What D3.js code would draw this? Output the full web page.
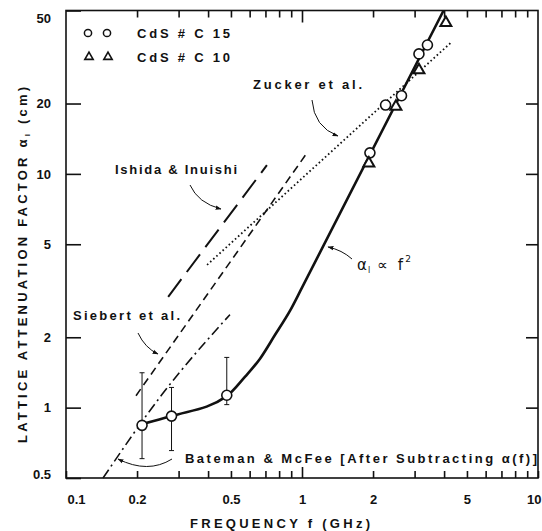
<!DOCTYPE html>
<html>
<head>
<meta charset="utf-8">
<script src="https://cdn.jsdelivr.net/npm/d3@7"></script>
<style>
  html, body { margin: 0; padding: 0; background: #fff; }
  svg { display: block; font-family: "Liberation Sans", Arial, sans-serif; }
</style>
</head>
<body>
<svg id="chart" width="542" height="531"></svg>
<script>
// ---- data: lattice attenuation factor vs frequency ----
// CdS # C15 (circles)
const c15Freq  = [0.21, 0.28, 0.48, 1.94, 2.26, 2.64, 3.13, 3.40];
const c15Atten = [0.84, 0.92, 1.13, 12.3, 19.7, 21.6, 32.6, 35.6];
// error bars on the three low-frequency C15 points
const errFreq = [0.21, 0.28, 0.48];
const errLow  = [0.605, 0.655, 1.03];
const errHigh = [1.41, 1.22, 1.64];
// CdS # C10 (triangles)
const c10Freq  = [1.92, 2.50, 3.13, 4.07];
const c10Atten = [11.1, 19.4, 27.8, 44.3];
// drawn fit through the C15 points, alpha_l ∝ f^2 at high frequency
const fitFreq  = [0.21, 0.28, 0.48, 0.574, 0.664, 0.769, 0.89, 1.00, 3.98];
const fitAtten = [0.85, 0.92, 1.12, 1.357, 1.62, 2.05, 2.60, 3.26, 50.0];
// literature curves
const ishidaFreq   = [0.271, 0.71];
const ishidaAtten  = [2.98, 10.9];
const siebertFreq  = [0.198, 1.05];
const siebertAtten = [1.125, 12.3];
const batemanFreq  = [0.1435, 0.255, 0.495];
const batemanAtten = [0.5, 1.137, 2.50];
const zuckerFreq   = [0.396, 4.31];
const zuckerAtten  = [4.08, 36.7];
// axis ticks
const xMinorTicks = [0.2, 0.3, 0.4, 0.5, 0.6, 0.7, 0.8, 0.9, 1, 2, 3, 4, 5, 6, 7, 8, 9];
const xLabelTicks = [0.1, 0.2, 0.5, 1, 2, 5, 10];
const yLabelTicks = [0.5, 1, 2, 5, 10, 20, 50];
const yRightTicks = [1, 2, 5, 10, 20];

const zip = (a, b) => a.map((v, i) => [v, b[i]]);

const svg = d3.select("#chart");
const ink = "#111";

const x = d3.scaleLog().domain([0.1, 10]).range([66, 538]);
const y = d3.scaleLog().domain([0.5, 50]).range([478, 10.5]);
const [x0, x1] = x.range();
const [yB, yT] = y.range();

// ---- axes ----
function styleAxis(g) {
  g.select(".domain").remove();
  g.selectAll(".tick line").attr("stroke", ink).attr("stroke-width", 1.6);
  g.selectAll(".tick text")
    .attr("fill", ink)
    .attr("font-size", 13)
    .attr("font-weight", "bold")
    .attr("font-family", "Liberation Sans, Arial, sans-serif");
}

const gBottom = svg.append("g")
  .attr("transform", `translate(0,${yB})`)
  .call(d3.axisBottom(x)
    .tickValues([0.1].concat(xMinorTicks, [10]))
    .tickSizeInner(-7).tickSizeOuter(0).tickPadding(17)
    .tickFormat(d => xLabelTicks.includes(d) ? String(d) : ""))
  .call(styleAxis);
gBottom.selectAll(".tick line").filter(d => d === 1).attr("y2", -11);
gBottom.selectAll(".tick text").filter(d => d === 0.1).attr("text-anchor", "start").attr("dx", 1);
gBottom.selectAll(".tick text").filter(d => d === 10).attr("text-anchor", "end").attr("dx", 3);

const gTop = svg.append("g")
  .attr("transform", `translate(0,${yT})`)
  .call(d3.axisTop(x).tickValues(xMinorTicks)
    .tickSizeInner(-7).tickSizeOuter(0).tickFormat(""))
  .call(styleAxis);
gTop.selectAll(".tick line").filter(d => d === 1).attr("y2", 12);

const gLeft = svg.append("g")
  .attr("transform", `translate(${x0},0)`)
  .call(d3.axisLeft(y).tickValues(yLabelTicks)
    .tickSizeInner(-15).tickSizeOuter(0).tickPadding(15)
    .tickFormat(d => String(d)))
  .call(styleAxis);
gLeft.selectAll(".tick text").filter(d => d === 50).attr("dy", "0.9em");
gLeft.selectAll(".tick text").filter(d => d === 0.5).attr("dy", "0");

svg.append("g")
  .attr("transform", `translate(${x1},0)`)
  .call(d3.axisRight(y).tickValues(yRightTicks)
    .tickSizeInner(-12).tickSizeOuter(0).tickFormat(""))
  .call(styleAxis);

// plot frame
svg.append("rect")
  .attr("x", x0).attr("y", yT)
  .attr("width", x1 - x0).attr("height", yB - yT)
  .attr("fill", "none").attr("stroke", ink).attr("stroke-width", 1.6);

// ---- curves ----
const line = d3.line().x(d => x(d[0])).y(d => y(d[1]));
const smooth = d3.line().x(d => x(d[0])).y(d => y(d[1])).curve(d3.curveMonotoneX);

svg.append("path").datum(zip(ishidaFreq, ishidaAtten))
  .attr("d", line).attr("fill", "none").attr("stroke", ink)
  .attr("stroke-width", 2).attr("stroke-dasharray", "22,9");

svg.append("path").datum(zip(siebertFreq, siebertAtten))
  .attr("d", line).attr("fill", "none").attr("stroke", ink)
  .attr("stroke-width", 1.6).attr("stroke-dasharray", "8,5");

svg.append("path").datum(zip(batemanFreq, batemanAtten))
  .attr("d", smooth).attr("fill", "none").attr("stroke", ink)
  .attr("stroke-width", 1.6).attr("stroke-dasharray", "10,4,2,4");

svg.append("path").datum(zip(zuckerFreq, zuckerAtten))
  .attr("d", line).attr("fill", "none").attr("stroke", ink)
  .attr("stroke-width", 1.8).attr("stroke-dasharray", "1.6,2.6");

svg.append("path").datum(zip(fitFreq, fitAtten))
  .attr("d", smooth).attr("fill", "none").attr("stroke", ink)
  .attr("stroke-width", 2.6).attr("stroke-linejoin", "round");

// ---- error bars ----
const eb = svg.append("g").attr("stroke", ink).attr("stroke-width", 1);
errFreq.forEach((f, i) => {
  const cx = x(f);
  eb.append("line").attr("x1", cx).attr("x2", cx).attr("y1", y(errLow[i])).attr("y2", y(errHigh[i]));
  eb.append("line").attr("x1", cx - 2.5).attr("x2", cx + 2.5).attr("y1", y(errLow[i])).attr("y2", y(errLow[i]));
  eb.append("line").attr("x1", cx - 2.5).attr("x2", cx + 2.5).attr("y1", y(errHigh[i])).attr("y2", y(errHigh[i]));
});

// ---- markers ----
svg.append("g").selectAll("circle").data(zip(c15Freq, c15Atten)).join("circle")
  .attr("cx", d => x(d[0])).attr("cy", d => y(d[1])).attr("r", 5)
  .attr("fill", "#fff").attr("stroke", ink).attr("stroke-width", 1.6);

const tri = d3.symbol(d3.symbolTriangle, 52);
svg.append("g").selectAll("path").data(zip(c10Freq, c10Atten)).join("path")
  .attr("d", tri)
  .attr("transform", d => `translate(${x(d[0])},${y(d[1])})`)
  .attr("fill", "#fff").attr("stroke", ink).attr("stroke-width", 2);

// ---- legend ----
const lg = svg.append("g");
[88, 107].forEach(cx => {
  lg.append("circle").attr("cx", cx).attr("cy", 33).attr("r", 3.6)
    .attr("fill", "#fff").attr("stroke", ink).attr("stroke-width", 1.5);
  lg.append("path").attr("d", d3.symbol(d3.symbolTriangle, 30))
    .attr("transform", `translate(${cx + 1},57)`)
    .attr("fill", "#fff").attr("stroke", ink).attr("stroke-width", 1.6);
});
lg.append("text").attr("x", 137).attr("y", 38).attr("textLength", 93).attr("lengthAdjust", "spacing")
  .attr("font-size", 13).attr("font-weight", "bold").attr("fill", ink).text("CdS # C 15");
lg.append("text").attr("x", 137).attr("y", 62).attr("textLength", 93).attr("lengthAdjust", "spacing")
  .attr("font-size", 13).attr("font-weight", "bold").attr("fill", ink).text("CdS # C 10");

// ---- annotations ----
function label(tx, ty, len, str) {
  return svg.append("text").attr("x", tx).attr("y", ty)
    .attr("textLength", len).attr("lengthAdjust", "spacing")
    .attr("font-size", 13).attr("font-weight", "bold").attr("fill", ink).text(str);
}
label(253, 89, 109, "Zucker  et  al.");
label(115, 174, 122, "Ishida & Inuishi");
label(73, 320, 107, "Siebert et al.");
label(185, 463, 352, "Bateman & McFee [After Subtracting α(f)]");

// alpha_l ∝ f^2
const prop = svg.append("text").attr("x", 357).attr("y", 270)
  .attr("font-family", "DejaVu Sans, sans-serif").attr("font-size", 15).attr("fill", ink);
prop.append("tspan").text("α");
prop.append("tspan").attr("font-size", 8).attr("dy", 3).attr("dx", 1).text("l");
prop.append("tspan").attr("dy", -3).attr("dx", 7).text("∝");
prop.append("tspan").attr("dx", 10).text("f");
prop.append("tspan").attr("font-size", 9).attr("dy", -8).attr("dx", 2).text("2");

// arrows
const defs = svg.append("defs");
defs.append("marker").attr("id", "head")
  .attr("viewBox", "0 0 10 10").attr("refX", 9).attr("refY", 5)
  .attr("markerWidth", 6).attr("markerHeight", 6).attr("orient", "auto")
  .append("path").attr("d", "M0,1.5 L10,5 L0,8.5 z").attr("fill", ink);

const arrows = [
  "M312,100 Q314,127 338,136",
  "M190,185 Q198,203 221,209",
  "M138,333 Q145,348 158,354",
  "M352,259 Q342,250 328,247",
  "M172,459 Q148,474 118,459"
];
svg.append("g").selectAll("path").data(arrows).join("path")
  .attr("d", d => d).attr("fill", "none").attr("stroke", ink)
  .attr("stroke-width", 1).attr("marker-end", "url(#head)");

// ---- axis titles ----
svg.append("text").attr("x", 190).attr("y", 528)
  .attr("textLength", 180).attr("lengthAdjust", "spacing")
  .attr("font-size", 13).attr("font-weight", "bold").attr("fill", ink)
  .text("FREQUENCY   f (GHz)");

const yt = svg.append("text")
  .attr("transform", "translate(27,443) rotate(-90)")
  .attr("textLength", 356).attr("lengthAdjust", "spacing")
  .attr("font-size", 13).attr("font-weight", "bold").attr("fill", ink);
yt.append("tspan").text("LATTICE  ATTENUATION  FACTOR   α");
yt.append("tspan").attr("font-size", 8).attr("dy", 3).text("l");
yt.append("tspan").attr("dy", -3).text(" (cm)");
</script>
</body>
</html>
